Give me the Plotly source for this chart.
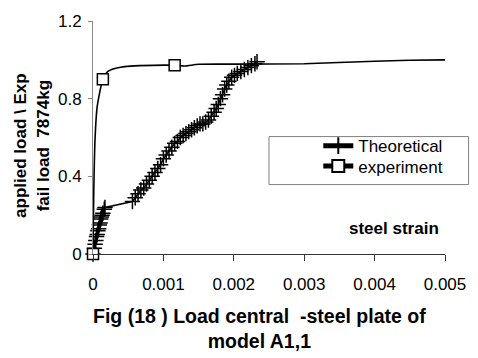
import plotly.graph_objects as go

# Theoretical series (steel strain, applied load / exp fail load)
theo_x = [0.00000, 0.00002, 0.00003, 0.00004, 0.00005, 0.00006, 0.00007, 0.00008,
          0.00009, 0.00010, 0.00011, 0.00012, 0.00013, 0.00014, 0.00016, 0.00017,
          0.00056, 0.00060, 0.00064, 0.00068, 0.00072, 0.00076, 0.00080, 0.00084,
          0.00088, 0.00092, 0.00096, 0.00100, 0.00104, 0.00108, 0.00112, 0.00116,
          0.00120, 0.00124, 0.00128, 0.00132, 0.00136, 0.00140, 0.00144, 0.00148,
          0.00152, 0.00156, 0.00160, 0.00164, 0.00168, 0.00172, 0.00175, 0.00178,
          0.00181, 0.00184, 0.00187, 0.00190, 0.00193, 0.00197, 0.00201, 0.00205,
          0.00210, 0.00215, 0.00220, 0.00225, 0.00230, 0.00233]
theo_y = [0.00, 0.03, 0.05, 0.07, 0.09, 0.10, 0.12, 0.13,
          0.15, 0.16, 0.18, 0.19, 0.20, 0.21, 0.23, 0.24,
          0.27, 0.29, 0.31, 0.33, 0.34, 0.36, 0.38, 0.40,
          0.42, 0.44, 0.46, 0.49, 0.51, 0.53, 0.55, 0.57,
          0.58, 0.60, 0.61, 0.62, 0.63, 0.64, 0.65, 0.66,
          0.67, 0.67, 0.68, 0.69, 0.71, 0.73, 0.75, 0.77,
          0.80, 0.82, 0.85, 0.87, 0.89, 0.91, 0.92, 0.93,
          0.94, 0.95, 0.96, 0.97, 0.98, 0.99]

# Experiment series (smoothed line) and its marked points
exp_x = [0.0, 0.00001, 0.00003, 0.00006, 0.00014, 0.00021, 0.00031, 0.00045,
         0.00066, 0.00116, 0.0013, 0.0015, 0.0020, 0.0030, 0.0040, 0.0045, 0.0050]
exp_y = [0.0, 0.30, 0.60, 0.76, 0.90, 0.94, 0.955, 0.965,
         0.97, 0.972, 0.968, 0.977, 0.978, 0.98, 0.993, 0.998, 1.0]
exp_mark_x = [0.0, 0.00014, 0.00116]
exp_mark_y = [0.0, 0.90, 0.972]

x_ticks = [0, 0.001, 0.002, 0.003, 0.004, 0.005]
x_ticklabels = ["0", "0.001", "0.002", "0.003", "0.004", "0.005"]
y_ticks = [0, 0.4, 0.8, 1.2]
y_ticklabels = ["0", "0.4", "0.8", "1.2"]

FONT = "Liberation Sans, Arial, sans-serif"
FS = 17

cross_marker = dict(symbol="cross-thin", size=11, line=dict(color="black", width=1.5))
square_marker = dict(symbol="square", size=11, color="white", line=dict(color="black", width=1.5))

fig = go.Figure()

fig.add_trace(go.Scatter(
    x=exp_x, y=exp_y, mode="lines", line=dict(color="black", width=1.6, shape="spline", smoothing=0.6),
    showlegend=False, hoverinfo="skip"))
fig.add_trace(go.Scatter(
    x=theo_x, y=theo_y, mode="lines+markers", line=dict(color="black", width=1.5),
    marker=cross_marker, showlegend=False, cliponaxis=False))
fig.add_trace(go.Scatter(
    x=exp_mark_x, y=exp_mark_y, mode="markers", marker=square_marker,
    showlegend=False, cliponaxis=False))

# legend entries (each in its own legend for tight spacing)
fig.add_trace(go.Scatter(
    x=[None], y=[None], mode="lines+markers", name="Theoretical",
    line=dict(color="black", width=1.5), marker=cross_marker, legend="legend"))
fig.add_trace(go.Scatter(
    x=[None], y=[None], mode="lines+markers", name="experiment",
    line=dict(color="black", width=1.5), marker=square_marker, legend="legend2"))

leg_common = dict(xanchor="left", yanchor="middle", bgcolor="rgba(0,0,0,0)",
                  borderwidth=0, font=dict(size=FS, family=FONT), itemsizing="constant")

fig.update_layout(
    width=478, height=358,
    margin=dict(l=93, r=29, t=12, b=104),
    paper_bgcolor="white", plot_bgcolor="white",
    font=dict(family=FONT, size=FS, color="black"),
    xaxis=dict(range=[0, 0.005], tickvals=x_ticks, ticktext=x_ticklabels,
               showgrid=False, zeroline=False, showline=True, linecolor="#333333", linewidth=1,
               ticks="outside", ticklen=6, tickcolor="#333333", ticklabelstandoff=9,
               tickfont=dict(size=FS)),
    yaxis=dict(range=[0, 1.2], tickvals=y_ticks, ticktext=y_ticklabels,
               showgrid=False, zeroline=False, showline=True, linecolor="#888888", linewidth=1,
               ticks="outside", ticklen=4, tickcolor="#888888", ticklabelstandoff=3,
               tickfont=dict(size=FS)),
    showlegend=True,
    legend=dict(x=0.64, y=(254 - 142) / 242, **leg_common),
    legend2=dict(x=0.64, y=(254 - 163) / 242, **leg_common),
    shapes=[dict(type="rect", xref="paper", yref="paper", x0=0.5, x1=1.067, y0=0.298, y1=0.504,
                 line=dict(color="#808080", width=1), fillcolor="white", layer="below")],
    annotations=[
        dict(text="<b>steel strain</b>", xref="paper", yref="paper", x=(397 - 93) / 356,
             y=(254 - 228) / 242, xanchor="center", yanchor="middle", showarrow=False,
             font=dict(size=FS)),
        dict(text="<b>applied load \\ Exp<br>fail load\u00a0\u00a07874kg</b>", xref="paper", yref="paper",
             x=(31 - 93) / 356, y=(254 - 141) / 242, xanchor="center", yanchor="middle",
             textangle=-90, showarrow=False, font=dict(size=FS)),
        dict(text="<b>Fig (18 ) Load central\u00a0\u00a0-steel plate of<br>model A1,1</b>",
             xref="paper", yref="paper", x=(261 - 93) / 356, y=(254 - 331) / 242,
             xanchor="center", yanchor="middle", showarrow=False, font=dict(size=19.5)),
    ],
)

fig.write_html("out.html")
